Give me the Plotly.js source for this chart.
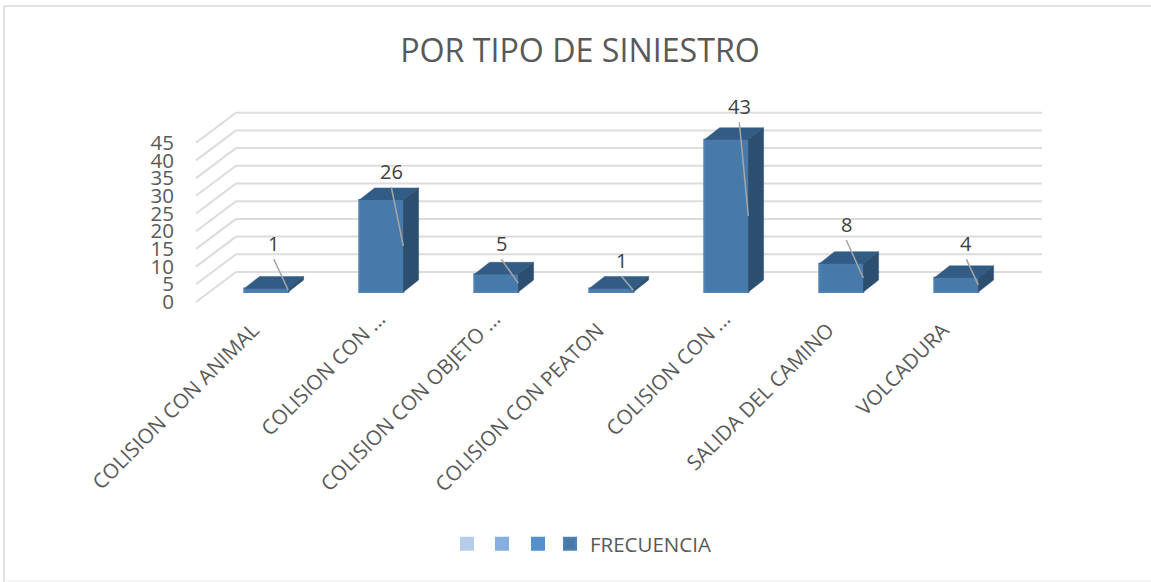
<!DOCTYPE html>
<html>
<head>
<meta charset="utf-8">
<script src="https://cdn.plot.ly/plotly-3.0.1.min.js"></script>
<style>html,body{margin:0;padding:0;background:#fff}#chart{width:1151px;height:582px}</style>
</head>
<body>
<div id="chart"></div>
<script>
// Data
const categories = ["COLISION CON ANIMAL", "COLISION CON ...", "COLISION CON OBJETO ...", "COLISION CON PEATON", "COLISION CON ...", "SALIDA DEL CAMINO", "VOLCADURA"];
const values = [1, 26, 5, 1, 43, 8, 4];
const yTicks = [0, 5, 10, 15, 20, 25, 30, 35, 40, 45];
const seriesName = "FRECUENCIA";

// Label placement
const labelRise = [12.8, 8.1, 8.8, 8, 9.4, 11.2, 9.8];      // value units above the bar
const labelShift = [0.065, 0.087, 0.043, 0.087, 0.113, 0.043, 0.087]; // category units right of centre

// Geometry of the fake-3D projection (data units)
const W = 1151, H = 582;
const PXX = 115, PXY = 3.54, ORIGX = 266.3, ORIGY = 292;
const px = v => (v - ORIGX) / PXX;
const py = v => (ORIGY - v) / PXY;
const halfBar = 22 / PXX;
const barDX = 15.3 / PXX, barDY = 12 / PXY;
const wallFrontX = px(196), wallBackX = px(236), wallEndX = px(1042);
const floorDrop = 10 / PXY, wallDY = 30 / PXY;
const idx = categories.map((_, i) => i);
// Truncated labels sit closer to the axis in the reference; the others are held back by trailing spaces
const tickText = categories.map(c => c.endsWith("...") ? c : c + "\u00A0\u00A0\u00A0");

const text = "#595959";
const font = "'Open Sans', sans-serif";

// Wall and floor gridlines, below the bars
const gridShapes = [];
yTicks.forEach(t => {
  const front = t - floorDrop, back = front + wallDY;
  const line = {color: "#DCDCDC", width: 2};
  gridShapes.push({type: "line", xref: "x", yref: "y", layer: "below", x0: wallFrontX, y0: front, x1: wallBackX, y1: back, line});
  gridShapes.push({type: "line", xref: "x", yref: "y", layer: "below", x0: wallBackX, y0: back, x1: wallEndX, y1: back, line});
});
// Chart frame
const frame = {color: "#D9D9D9", width: 1.5};
gridShapes.push({type: "line", xref: "paper", yref: "paper", layer: "below", x0: 4 / W, x1: 1, y0: 1 - 6 / H, y1: 1 - 6 / H, line: frame});
gridShapes.push({type: "line", xref: "paper", yref: "paper", layer: "below", x0: 4 / W, x1: 4 / W, y0: 1 - 6 / H, y1: 0, line: frame});
gridShapes.push({type: "line", xref: "paper", yref: "paper", layer: "below", x0: 4 / W, x1: 1, y0: 1 / H, y1: 1 / H, line: {color: "#EDEDED", width: 1}});

// Faces of each bar, worked out from the values
const topX = [], topY = [], sideX = [], sideY = [], leadX = [], leadY = [];
values.forEach((v, i) => {
  const l = i - halfBar, r = i + halfBar;
  topX.push(l, r, r + barDX, l + barDX, l, null);
  topY.push(v, v, v + barDY, v + barDY, v, null);
  sideX.push(r, r + barDX, r + barDX, r, r, null);
  sideY.push(0, barDY, v + barDY, v, 0, null);
  leadX.push(i + labelShift[i], r, null);
  leadY.push(v + labelRise[i] - 4.5, v / 2, null);
});

const swatch = (color, legend) => ({
  type: "bar", x: [null], y: [null], name: " ", hoverinfo: "skip", legend,
  marker: {color, line: {color, width: 2}}
});

const traces = [
  swatch("#B7CCE9", "legend"),
  swatch("#86AFDF", "legend2"),
  swatch("#5490CC", "legend3"),
  {
    type: "bar", x: idx, y: values, name: seriesName, width: 2 * halfBar, legend: "legend4",
    marker: {color: "#4779A9", line: {color: "#4F82B4", width: 2}}
  },
  {type: "scatter", mode: "lines", x: topX, y: topY, fill: "toself", fillcolor: "#335C85", line: {color: "#335C85", width: 0.5}, showlegend: false, hoverinfo: "skip"},
  {type: "scatter", mode: "lines", x: sideX, y: sideY, fill: "toself", fillcolor: "#2C4F70", line: {color: "#2C4F70", width: 0.5}, showlegend: false, hoverinfo: "skip"},
  {type: "scatter", mode: "lines", x: leadX, y: leadY, line: {color: "#A6A6A6", width: 1.5}, showlegend: false, hoverinfo: "skip"}
];

const annotations = values.map((v, i) => ({
  xref: "x", yref: "y", x: i + labelShift[i], y: v + labelRise[i],
  text: String(v), showarrow: false, xanchor: "center", yanchor: "middle",
  font: {family: font, size: 20, color: "#404040"}
}));

const legendAt = left => ({
  orientation: "h", x: left / W, xanchor: "left", y: 1 - 544 / H, yanchor: "middle",
  font: {family: font, size: 20.5, color: text}, bgcolor: "rgba(0,0,0,0)"
});

const layout = {
  width: W, height: H,
  margin: {l: 0, r: 0, t: 0, b: 0},
  paper_bgcolor: "#fff", plot_bgcolor: "rgba(0,0,0,0)",
  barmode: "overlay",
  title: {
    text: "POR TIPO DE SINIESTRO", x: 580 / W, xref: "paper", xanchor: "center",
    y: 1 - 51 / H, yref: "paper", yanchor: "middle",
    font: {family: font, size: 32.2, color: text}
  },
  xaxis: {
    domain: [175 / W, 1060 / W], range: [px(175), px(1060)],
    tickmode: "array", tickvals: idx, ticktext: tickText, tickangle: -45,
    ticklabelshift: -2, ticklabelstandoff: -8,
    showgrid: false, zeroline: false, showline: false, ticks: "",
    tickfont: {family: font, size: 20.5, color: text}, automargin: false
  },
  yaxis: {
    domain: [1 - 310 / H, 1 - 80 / H], range: [py(310), py(80)],
    tickmode: "array", tickvals: yTicks.map(t => t - floorDrop), ticktext: yTicks.map(String),
    showgrid: false, zeroline: false, showline: false, ticks: "",
    tickfont: {family: font, size: 20.5, color: text}, automargin: false
  },
  shapes: gridShapes,
  annotations,
  legend: legendAt(447),
  legend2: legendAt(482),
  legend3: legendAt(518),
  legend4: legendAt(550),
  showlegend: true
};

Plotly.newPlot("chart", traces, layout, {displayModeBar: false, responsive: false});
</script>
</body>
</html>
